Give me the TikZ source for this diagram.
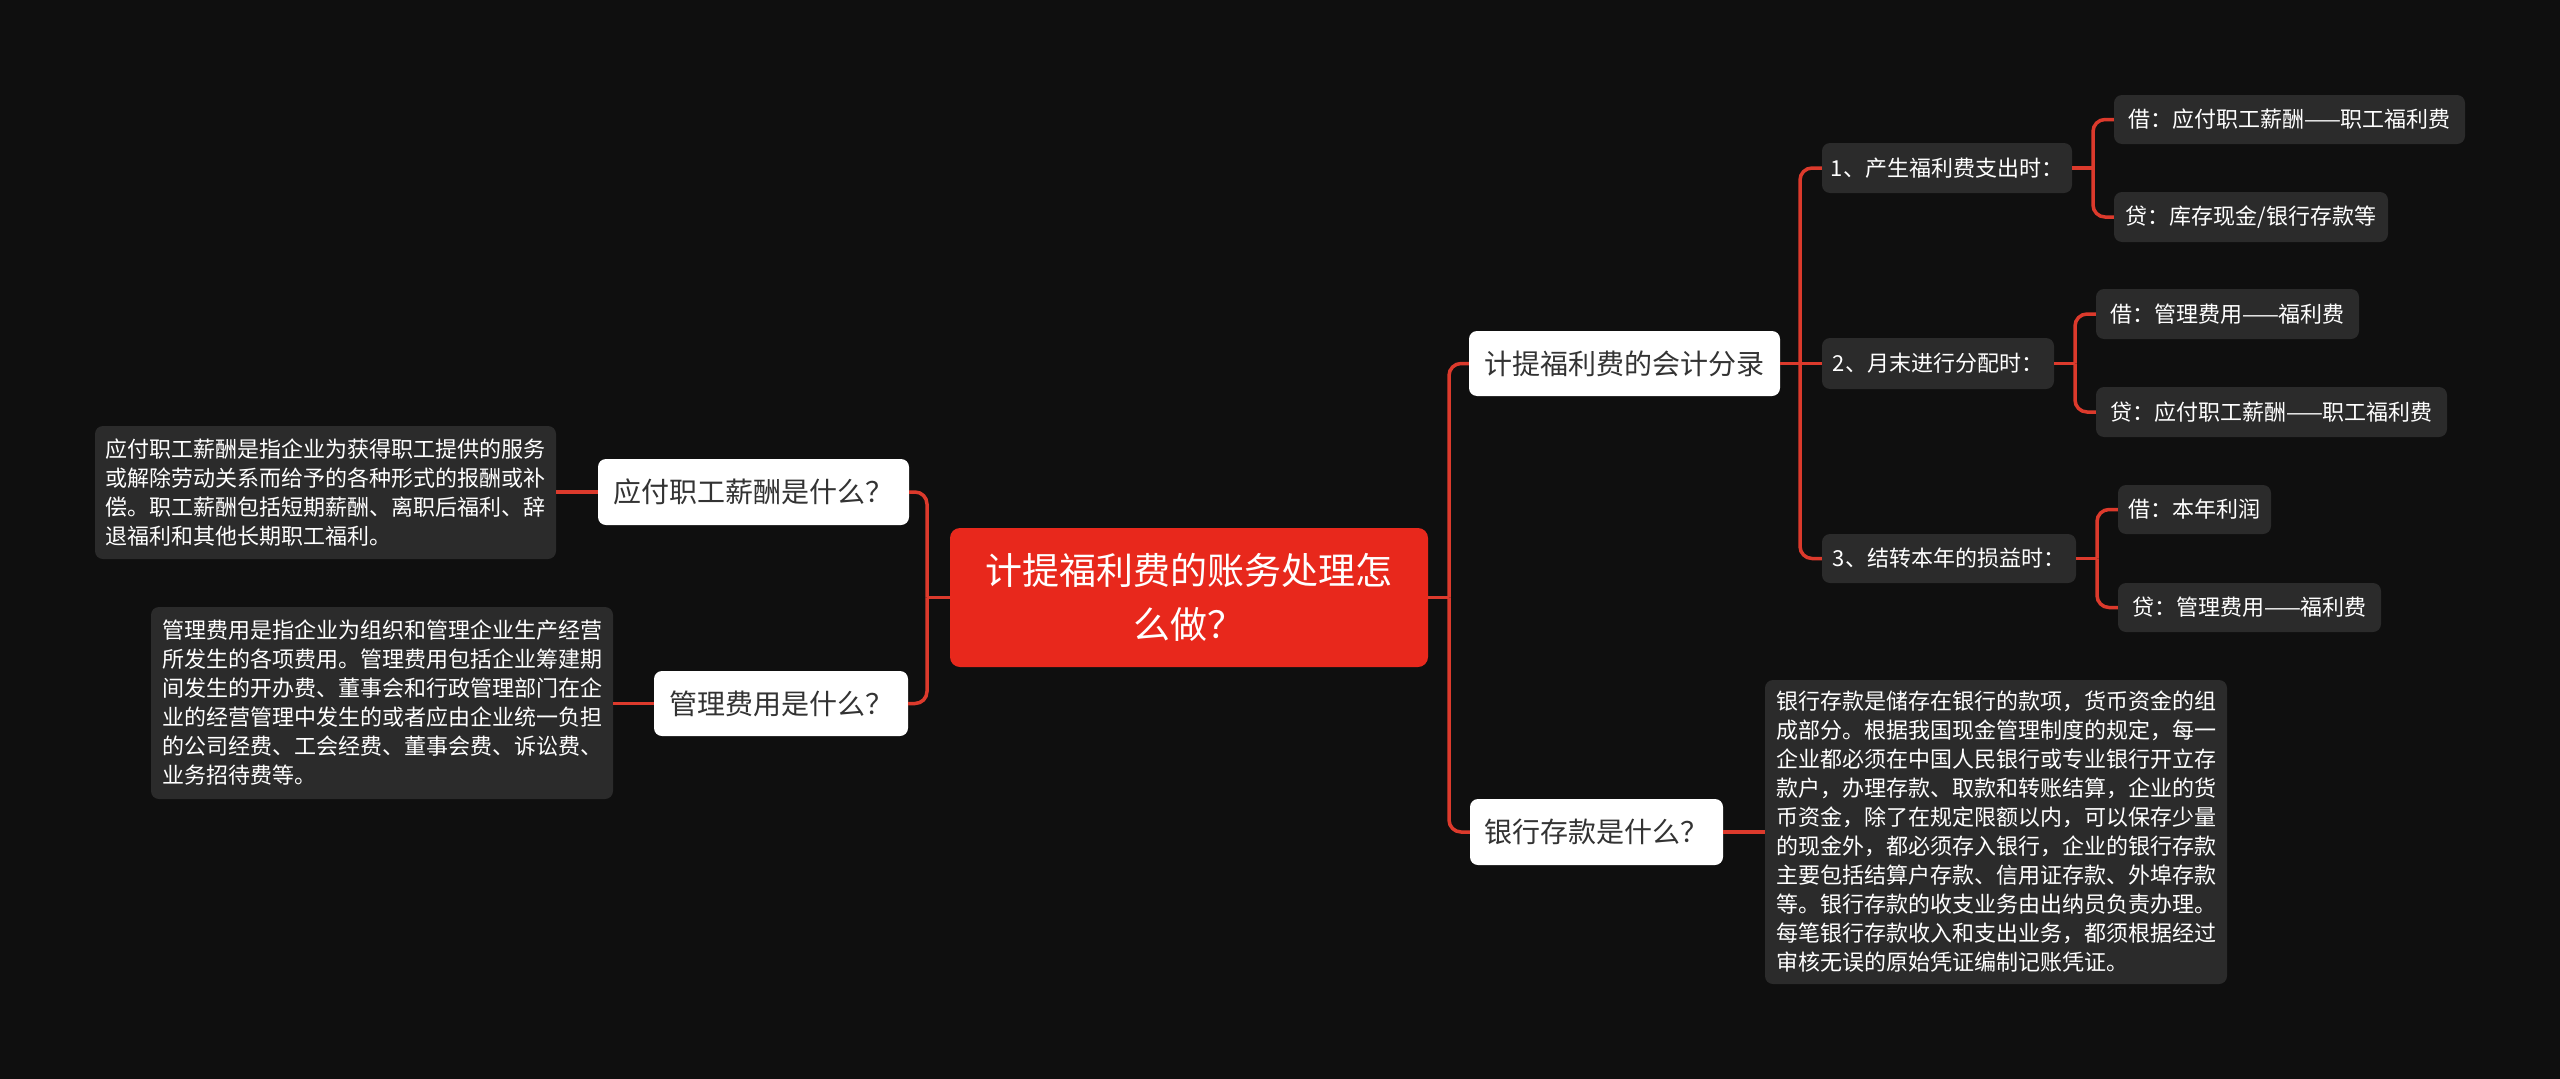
\documentclass[tikz,border=0pt]{standalone}
\usepackage{fontspec}
\newfontfamily\cjk{Noto Sans CJK SC}
\definecolor{bgc}{HTML}{0F0F0F}
\definecolor{rootred}{HTML}{E8281C}
\definecolor{connred}{HTML}{DC3A2C}
\definecolor{boxgray}{HTML}{2B2B2B}
\definecolor{txtdark}{HTML}{333333}
\tikzset{
  rootbox/.style={fill=rootred, text=white, rounded corners=10pt, align=center, inner sep=0pt,
    font=\cjk\fontsize{37}{54}\selectfont},
  lvlone/.style={fill=white, text=txtdark, rounded corners=8pt, inner sep=0pt,
    font=\cjk\fontsize{28}{34}\selectfont},
  lvltwo/.style={fill=boxgray, text=white, rounded corners=8pt, inner sep=0pt,
    font=\cjk\fontsize{22}{28}\selectfont},
  descbox/.style={fill=boxgray, text=white, rounded corners=8pt, inner sep=0pt, align=left,
    font=\cjk\fontsize{22}{29}\selectfont},
  conn/.style={draw=connred, line width=3.5pt},
  elbow/.style={conn, rounded corners=12pt}
}
\begin{document}
\begin{tikzpicture}[x=1pt,y=-1pt]
\fill[bgc] (0,0) rectangle (2560,1079);
\useasboundingbox (0,0) rectangle (2560,1079);

% root
\node[rootbox, minimum width=478pt, minimum height=139pt] (root) at (1189,597.5)
  {计提福利费的账务处理怎\\么做？};

% left branch
\node[lvlone, minimum width=311pt, minimum height=66pt] (A) at (753.5,492) {应付职工薪酬是什么？};
\node[descbox, minimum width=461pt, minimum height=133pt] (Ad) at (325.5,492.5)
  {应付职工薪酬是指企业为获得职工提供的服务\\或解除劳动关系而给予的各种形式的报酬或补\\偿。职工薪酬包括短期薪酬、离职后福利、辞\\退福利和其他长期职工福利。};
\node[lvlone, minimum width=254pt, minimum height=65pt] (B) at (781,703.5) {管理费用是什么？};
\node[descbox, minimum width=462pt, minimum height=192pt] (Bd) at (382,703)
  {管理费用是指企业为组织和管理企业生产经营\\所发生的各项费用。管理费用包括企业筹建期\\间发生的开办费、董事会和行政管理部门在企\\业的经营管理中发生的或者应由企业统一负担\\的公司经费、工会经费、董事会费、诉讼费、\\业务招待费等。};

% right branch
\node[lvlone, minimum width=311pt, minimum height=65pt] (C) at (1624.5,363.5) {计提福利费的会计分录};
\node[lvlone, minimum width=253pt, minimum height=66pt] (D) at (1596.5,832) {银行存款是什么？};
\node[descbox, minimum width=462pt, minimum height=304pt] (Dd) at (1996,832)
  {银行存款是储存在银行的款项，货币资金的组\\成部分。根据我国现金管理制度的规定，每一\\企业都必须在中国人民银行或专业银行开立存\\款户，办理存款、取款和转账结算，企业的货\\币资金，除了在规定限额以内，可以保存少量\\的现金外，都必须存入银行，企业的银行存款\\主要包括结算户存款、信用证存款、外埠存款\\等。银行存款的收支业务由出纳员负责办理。\\每笔银行存款收入和支出业务，都须根据经过\\审核无误的原始凭证编制记账凭证。};

\node[lvltwo, minimum width=250pt, minimum height=50pt] (S1) at (1947,168) {1、产生福利费支出时：};
\node[lvltwo, minimum width=232pt, minimum height=51pt] (S2) at (1938,363.5) {2、月末进行分配时：};
\node[lvltwo, minimum width=254pt, minimum height=49pt] (S3) at (1949,558.5) {3、结转本年的损益时：};

\node[lvltwo, minimum width=351pt, minimum height=49pt] (L11) at (2289.5,119.5) {借：应付职工薪酬——职工福利费};
\node[lvltwo, minimum width=274pt, minimum height=50pt] (L12) at (2251,217) {贷：库存现金/银行存款等};
\node[lvltwo, minimum width=263pt, minimum height=50pt] (L21) at (2227.5,314) {借：管理费用——福利费};
\node[lvltwo, minimum width=351pt, minimum height=50pt] (L22) at (2271.5,412) {贷：应付职工薪酬——职工福利费};
\node[lvltwo, minimum width=153pt, minimum height=49pt] (L31) at (2194.5,509.5) {借：本年利润};
\node[lvltwo, minimum width=263pt, minimum height=49pt] (L32) at (2249.5,607.5) {贷：管理费用——福利费};

% junctions
\coordinate (jl) at (927,597.5);
\coordinate (jr) at (1449,597.5);
\coordinate (jc) at (1800,363.5);
\coordinate (j1) at (2093,168);
\coordinate (j2) at (2075,363.5);
\coordinate (j3) at (2097,558.5);

% connectors
\begin{scope}[on background layer/.style={}]
\draw[conn] (root.west) -- (jl);
\draw[elbow] (jl) |- (A.east);
\draw[elbow] (jl) |- (B.east);
\draw[conn] (A.west) -- (A.west -| Ad.east);
\draw[conn] (B.west) -- (B.west -| Bd.east);

\draw[conn] (root.east) -- (jr);
\draw[elbow] (jr) |- (C.west);
\draw[elbow] (jr) |- (D.west);
\draw[conn] (D.east) -- (D.east -| Dd.west);

\draw[conn] (C.east) -- (jc);
\draw[elbow] (jc) |- (S1.west);
\draw[conn] (jc) -- (S2.west);
\draw[elbow] (jc) |- (S3.west);

\draw[conn] (S1.east) -- (j1);
\draw[elbow] (j1) |- (L11.west);
\draw[elbow] (j1) |- (L12.west);
\draw[conn] (S2.east) -- (j2);
\draw[elbow] (j2) |- (L21.west);
\draw[elbow] (j2) |- (L22.west);
\draw[conn] (S3.east) -- (j3);
\draw[elbow] (j3) |- (L31.west);
\draw[elbow] (j3) |- (L32.west);
\end{scope}
\end{tikzpicture}
\end{document}
